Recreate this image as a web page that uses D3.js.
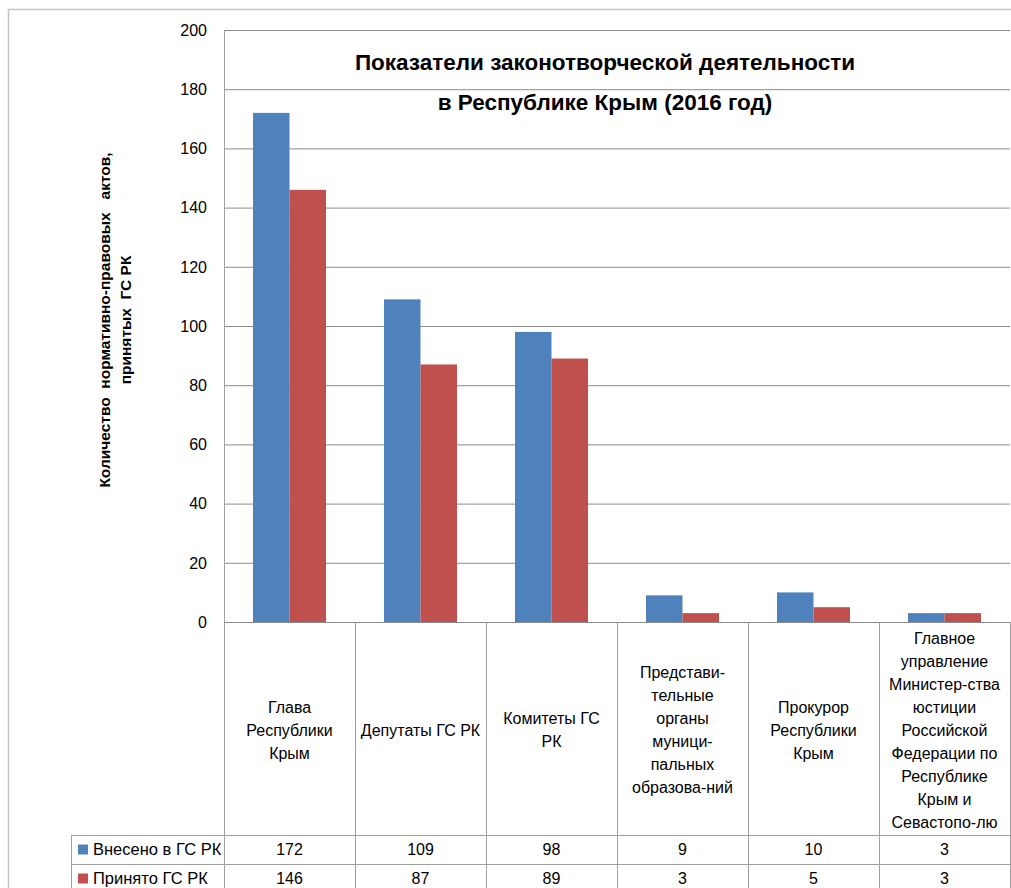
<!DOCTYPE html>
<html>
<head>
<meta charset="utf-8">
<script src="https://cdn.jsdelivr.net/npm/d3@7"></script>
<style>
  body { margin: 0; background: #fff; }
  svg text { font-family: "Liberation Sans", Arial, sans-serif; fill: #000; }
</style>
</head>
<body>
<svg id="chart" width="1011" height="888"></svg>
<script>
// категории (строки подписи в таблице)
const categories = [
  ['Глава', 'Республики', 'Крым'],
  ['Депутаты ГС РК'],
  ['Комитеты ГС', 'РК'],
  ['Представи-', 'тельные', 'органы', 'муници-', 'пальных', 'образова-ний'],
  ['Прокурор', 'Республики', 'Крым'],
  ['Главное', 'управление', 'Министер-ства', 'юстиции', 'Российской', 'Федерации по', 'Республике', 'Крым и', 'Севастопо-лю']
];
const submitted = [172, 109, 98, 9, 10, 3];
const adopted = [146, 87, 89, 3, 5, 3];
const seriesNames = ['Внесено в ГС РК', 'Принято ГС РК'];
const colors = ['#4f81bd', '#c0504d'];
const titleLines = ['Показатели законотворческой деятельности', 'в Республике Крым (2016 год)'];
const yTitle = ['Количество  нормативно-правовых   актов,', 'принятых  ГС РК'];

const margin = { top: 30, left: 224, right: 1010, bottom: 622 };
const labelBottom = 835;
const rowH = 29;

const svg = d3.select('#chart');

// внешняя рамка
svg.append('path')
  .attr('d', 'M8.5,888 V9.5 H1011')
  .attr('fill', 'none')
  .attr('stroke', '#c4c4c4')
  .attr('stroke-width', 1.5);

const x = d3.scaleBand()
  .domain(d3.range(categories.length))
  .range([margin.left, margin.right]);

const x1 = d3.scaleBand()
  .domain([0, 1])
  .range([0, x.bandwidth()])
  .paddingOuter(0.795);

const y = d3.scaleLinear()
  .domain([0, 200])
  .range([margin.bottom, margin.top]);

// сетка
const grid = svg.append('g')
  .attr('transform', `translate(${margin.left},0)`)
  .call(d3.axisLeft(y).ticks(10).tickSize(-(margin.right - margin.left)).tickFormat(''));
grid.select('.domain').remove();
grid.selectAll('line').attr('stroke', '#8c8c8c');

// подписи оси Y
svg.append('g')
  .selectAll('text')
  .data(y.ticks(10))
  .enter()
  .append('text')
  .attr('x', 207)
  .attr('y', d => y(d))
  .attr('dy', '0.36em')
  .attr('text-anchor', 'end')
  .style('font-size', '16px')
  .text(d => d);

// столбцы
const series = [submitted, adopted];
series.forEach((vals, s) => {
  svg.append('g')
    .attr('fill', colors[s])
    .selectAll('rect')
    .data(vals)
    .enter()
    .append('rect')
    .attr('x', (d, i) => x(i) + x1(s))
    .attr('y', d => y(d))
    .attr('width', x1.bandwidth())
    .attr('height', d => y(0) - y(d));
});

// линии таблицы
const tableLines = svg.append('g').attr('stroke', '#a0a0a0').attr('stroke-width', 1);
x.domain().concat([categories.length]).forEach(i => {
  const xx = i < categories.length ? x(i) : margin.right;
  tableLines.append('line')
    .attr('x1', xx + 0.5).attr('x2', xx + 0.5)
    .attr('y1', i === 0 ? margin.top : margin.bottom).attr('y2', 888);
});
tableLines.append('line')
  .attr('x1', margin.left).attr('x2', margin.right)
  .attr('y1', margin.bottom + 0.5).attr('y2', margin.bottom + 0.5)
  .attr('stroke', '#8c8c8c');
[labelBottom, labelBottom + rowH].forEach(yy => {
  tableLines.append('line')
    .attr('x1', 71).attr('x2', margin.right)
    .attr('y1', yy + 0.5).attr('y2', yy + 0.5);
});
tableLines.append('line')
  .attr('x1', 71.5).attr('x2', 71.5)
  .attr('y1', labelBottom).attr('y2', 888);

// подписи категорий
const lineH = 23;
const catCenter = 730;
categories.forEach((lines, i) => {
  const t = svg.append('text')
    .attr('text-anchor', 'middle')
    .style('font-size', '16px');
  lines.forEach((ln, k) => {
    t.append('tspan')
      .attr('x', x(i) + x.bandwidth() / 2)
      .attr('y', catCenter + (k - (lines.length - 1) / 2) * lineH)
      .attr('dy', '0.36em')
      .text(ln);
  });
});

// строки таблицы
series.forEach((vals, s) => {
  const rowY = labelBottom + rowH * s + rowH / 2;
  svg.append('rect')
    .attr('x', 78).attr('y', rowY - 5)
    .attr('width', 10).attr('height', 10)
    .attr('fill', colors[s]);
  svg.append('text')
    .attr('x', 93).attr('y', rowY)
    .attr('dy', '0.36em')
    .style('font-size', '16.5px')
    .text(seriesNames[s]);
  svg.append('g')
    .selectAll('text')
    .data(vals)
    .enter()
    .append('text')
    .attr('x', (d, i) => x(i) + x.bandwidth() / 2)
    .attr('y', rowY)
    .attr('dy', '0.36em')
    .attr('text-anchor', 'middle')
    .style('font-size', '16px')
    .text(d => d);
});

// заголовок
svg.append('g')
  .selectAll('text')
  .data(titleLines)
  .enter()
  .append('text')
  .attr('x', 605)
  .attr('y', (d, i) => 62 + i * 40)
  .attr('dy', '0.36em')
  .attr('text-anchor', 'middle')
  .style('font-size', '22.5px')
  .style('font-weight', 'bold')
  .text(d => d);

// подпись оси Y
const yt = svg.append('text')
  .attr('transform', 'translate(104,320) rotate(-90)')
  .attr('text-anchor', 'middle')
  .style('font-size', '15.5px')
  .style('font-weight', 'bold')
  .style('white-space', 'pre');
yTitle.forEach((ln, k) => {
  yt.append('tspan')
    .attr('x', 0)
    .attr('y', k * 21)
    .attr('dy', '0.36em')
    .text(ln);
});
</script>
</body>
</html>
